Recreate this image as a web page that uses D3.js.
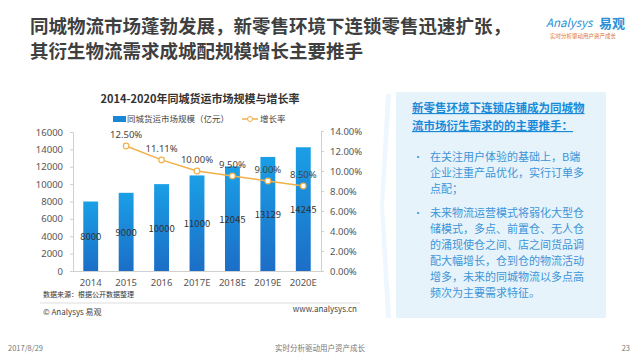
<!DOCTYPE html>
<html><head><meta charset="utf-8">
<script src="https://cdn.jsdelivr.net/npm/d3@7/dist/d3.min.js"></script>
<style>
body{margin:0;background:#fff;}
svg{display:block;font-family:"Noto Sans CJK SC","Noto Sans",sans-serif;}
</style></head><body>
<svg id="c" width="640" height="360"></svg>
<script>
const years = ["2014","2015","2016","2017E","2018E","2019E","2020E"];
const market = [8000,9000,10000,11000,12045,13129,14245];
const growth = [null,12.5,11.11,10.0,9.5,9.0,8.5];
const leftTicks = [0,2000,4000,6000,8000,10000,12000,14000,16000];
const rightTicks = [0,2,4,6,8,10,12,14];
const titleLines = ["同城物流市场蓬勃发展，新零售环境下连锁零售迅速扩张，","其衍生物流需求成城配规模增长主要推手"];
const headLines = ["新零售环境下连锁店铺成为同城物","流市场衍生需求的的主要推手："];
const bullets = [["在关注用户体验的基础上，B端","企业注重产品优化，实行订单多","点配；"],
 ["未来物流运营模式将弱化大型仓","储模式，多点、前置仓、无人仓","的涌现使仓之间、店之间货品调","配大幅增长，仓到仓的物流活动","增多，未来的同城物流以多点高","频次为主要需求特征。"]];

const svg = d3.select("#c");
const defs = svg.append("defs");
const g = defs.append("linearGradient").attr("id","bar").attr("x1",0).attr("y1",0).attr("x2",0).attr("y2",1);
g.append("stop").attr("offset","0%").attr("stop-color","#1a9fe6");
g.append("stop").attr("offset","100%").attr("stop-color","#1c6ec6");

// Title
svg.append("g").selectAll("text").data(titleLines).join("text")
 .attr("x",30).attr("y",(d,i)=>33+i*25).attr("font-size",18.5).attr("font-weight","bold")
 .attr("fill","#3f3f3f").text(d=>d);
// Logo
svg.append("text").attr("x",546).attr("y",27).attr("font-size",11.5).attr("fill","#2b8fd6").attr("font-style","italic").text("Analysys");
svg.append("text").attr("x",599).attr("y",28).attr("font-size",13).attr("font-weight","bold").attr("fill","#2b8fd6").text("易观");
svg.append("text").attr("x",550).attr("y",38).attr("font-size",5.5).attr("fill","#e07030").text("实时分析驱动用户资产成长");

// Chart title
svg.append("text").attr("x",200).attr("y",103).attr("text-anchor","middle").attr("font-size",11).attr("font-weight","bold").attr("fill","#333").text("2014-2020年同城货运市场规模与增长率");
// Legend
svg.append("rect").attr("x",113).attr("y",116).attr("width",13).attr("height",6).attr("fill","#1a86d6");
svg.append("text").attr("x",127).attr("y",122).attr("font-size",8.5).attr("fill","#444").text("同城货运市场规模（亿元）");
svg.append("line").attr("x1",242).attr("x2",258).attr("y1",119).attr("y2",119).attr("stroke","#f0b04a").attr("stroke-width",1.5);
svg.append("circle").attr("cx",250).attr("cy",119).attr("r",2.5).attr("fill","#fff").attr("stroke","#f0b04a");
svg.append("text").attr("x",260).attr("y",122).attr("font-size",8.5).attr("fill","#444").text("增长率");

const x = d3.scaleBand().domain(years).range([73,321]).paddingInner(0.58).paddingOuter(0.29);
const y = d3.scaleLinear().domain([0,16000]).range([271,132]);
const y2 = d3.scaleLinear().domain([0,14]).range([271,131]);

// Axes
const la = svg.append("g").attr("transform","translate(73,0)").call(d3.axisLeft(y).tickValues(leftTicks).tickSize(3).tickPadding(7).tickFormat(d3.format("d")));
const ra = svg.append("g").attr("transform","translate(321,0)").call(d3.axisRight(y2).tickValues(rightTicks).tickSize(3).tickPadding(6).tickFormat(d=>d.toFixed(2)+"%"));
const ba = svg.append("g").attr("transform","translate(0,271)").call(d3.axisBottom(x).tickSize(0).tickPadding(8));
[la,ra,ba].forEach(a=>{a.selectAll("path").attr("stroke","#d0d0d0");a.selectAll("line").attr("stroke","#d0d0d0");
 a.selectAll("text").attr("fill","#555").attr("font-size",9.5).attr("font-family","'Noto Sans','Noto Sans CJK SC',sans-serif");});

// Bars
svg.append("g").selectAll("rect").data(market).join("rect")
 .attr("x",(d,i)=>x(years[i])).attr("width",x.bandwidth())
 .attr("y",d=>y(d)).attr("height",d=>271-y(d)).attr("fill","url(#bar)");
svg.append("g").selectAll("text").data(market).join("text")
 .attr("x",(d,i)=>x(years[i])+x.bandwidth()/2).attr("y",d=>(y(d)+271)/2+4)
 .attr("text-anchor","middle").attr("font-size",9.5).attr("fill","#333").text(d=>d);

// Line
const pts = growth.map((v,i)=>({v,i})).filter(d=>d.v!=null);
const cx = d=>x(years[d.i])+x.bandwidth()/2;
svg.append("path").datum(pts).attr("fill","none").attr("stroke","#f0b04a").attr("stroke-width",1.5)
 .attr("d",d3.line().x(cx).y(d=>y2(d.v)));
svg.append("g").selectAll("circle").data(pts).join("circle")
 .attr("cx",cx).attr("cy",d=>y2(d.v)).attr("r",2.8).attr("fill","#fff").attr("stroke","#f0b04a").attr("stroke-width",1.2);
svg.append("g").selectAll("text").data(pts).join("text")
 .attr("x",cx).attr("y",d=>y2(d.v)-8).attr("text-anchor","middle").attr("font-size",9.5).attr("fill","#444")
 .attr("font-family","'Noto Sans',sans-serif").text(d=>d.v.toFixed(2)+"%");

// Source / footer of chart
svg.append("text").attr("x",43).attr("y",297).attr("font-size",7).attr("fill","#333").text("数据来源：根据公开数据整理");
svg.append("line").attr("x1",40).attr("x2",360).attr("y1",303).attr("y2",303).attr("stroke","#ddd");
svg.append("text").attr("x",43).attr("y",315).attr("font-size",8).attr("fill","#444").text("© Analysys 易观");
svg.append("text").attr("x",357).attr("y",312).attr("text-anchor","end").attr("font-size",8).attr("fill","#444").text("www.analysys.cn");

// Right panel
svg.append("polygon").attr("points","386,94 391,94 384,205 391,318 386,318 380,205").attr("fill","#eef7fd");
svg.append("rect").attr("x",396).attr("y",92).attr("width",210).attr("height",226).attr("fill","#e6f3fb");
svg.append("g").selectAll("text").data(headLines).join("text")
 .attr("x",412).attr("y",(d,i)=>112+i*18).attr("font-size",11.5).attr("font-weight","bold")
 .attr("fill","#1a8ad8").attr("text-decoration","underline").text(d=>d);
let yy = 161;
bullets.forEach((b,bi)=>{
  svg.append("text").attr("x",413).attr("y",yy).attr("font-size",10).attr("fill","#3d95d8").text("•");
  b.forEach((line,li)=>{
    svg.append("text").attr("x",430).attr("y",yy+li*16).attr("font-size",11).attr("fill","#3d95d8").text(line);
  });
  yy += b.length*16 + 8;
});

// Page footer
svg.append("text").attr("x",8).attr("y",351).attr("font-size",7.5).attr("fill","#777").text("2017/8/29");
svg.append("text").attr("x",320).attr("y",351).attr("text-anchor","middle").attr("font-size",7.5).attr("fill","#777").text("实时分析驱动用户资产成长");
svg.append("text").attr("x",630).attr("y",351).attr("text-anchor","end").attr("font-size",7.5).attr("fill","#777").text("23");
</script></body></html>
